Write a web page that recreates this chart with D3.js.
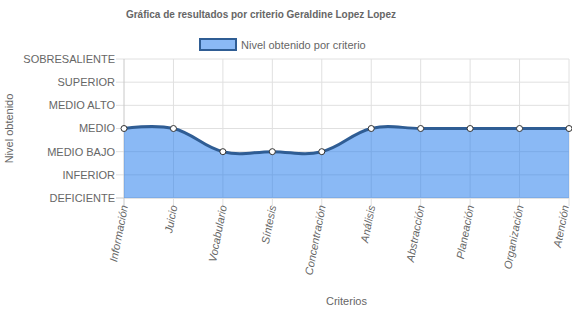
<!DOCTYPE html>
<html>
<head>
<meta charset="utf-8">
<script src="https://cdn.jsdelivr.net/npm/d3@7"></script>
<style>
  body { margin: 0; background: #fff; }
  svg text { font-family: "Liberation Sans", Arial, sans-serif; fill: #666; }
</style>
</head>
<body>
<svg id="chart" width="572" height="313"></svg>
<script>
var criterios = ["Información", "Juicio", "Vocabulario", "Síntesis", "Concentración",
  "Análisis", "Abstracción", "Planeación", "Organización", "Atención"];
var niveles = ["DEFICIENTE", "INFERIOR", "MEDIO BAJO", "MEDIO", "MEDIO ALTO", "SUPERIOR", "SOBRESALIENTE"];
var valores = [3, 3, 2, 2, 2, 3, 3, 3, 3, 3];

var titulo = "Gráfica de resultados por criterio Geraldine Lopez Lopez";
var leyenda = "Nivel obtenido por criterio";

var svg = d3.select('#chart');
var margin = {top: 59, right: 3, bottom: 115, left: 124};
var width = 572 - margin.left - margin.right;
var height = 313 - margin.top - margin.bottom;

var x = d3.scalePoint().domain(criterios).range([0, width]);
var y = d3.scaleLinear().domain([0, niveles.length - 1]).range([height, 0]);

var g = svg.append("g").attr("transform", "translate(" + margin.left + "," + margin.top + ")");

// grid
g.append("g").selectAll("line")
  .data(d3.range(niveles.length))
  .enter().append("line")
  .attr("x1", -8).attr("x2", width)
  .attr("y1", function(d) { return y(d); })
  .attr("y2", function(d) { return y(d); })
  .attr("stroke", function(d) { return d == 0 ? "#c8c8c8" : "#e0e0e0"; })
  .attr("stroke-width", 1);

g.append("g").selectAll("line")
  .data(criterios)
  .enter().append("line")
  .attr("x1", function(d) { return x(d); })
  .attr("x2", function(d) { return x(d); })
  .attr("y1", 0).attr("y2", height + 8)
  .attr("stroke", function(d, i) { return i == 0 ? "#c8c8c8" : "#e0e0e0"; })
  .attr("stroke-width", 1);

// y labels
g.append("g").selectAll("text")
  .data(niveles)
  .enter().append("text")
  .attr("x", -9)
  .attr("y", function(d, i) { return y(i); })
  .attr("dy", "0.35em")
  .attr("text-anchor", "end")
  .attr("font-size", 11)
  .text(function(d) { return d; });

// x labels (last one pulled in a little so it stays inside the page)
g.append("g").selectAll("text")
  .data(criterios)
  .enter().append("text")
  .attr("transform", function(d, i) {
    var dx = i == criterios.length - 1 ? 0 : 4;
    return "translate(" + (x(d) + dx) + "," + (height + 8) + ") rotate(-79)"; })
  .attr("text-anchor", "end")
  .attr("font-size", 11)
  .attr("font-style", "italic")
  .text(function(d) { return d; });

var datos = criterios.map(function(c, i) { return {c: c, v: valores[i]}; });

var area = d3.area()
  .x(function(d) { return x(d.c); })
  .y0(height)
  .y1(function(d) { return y(d.v); })
  .curve(d3.curveCardinal.tension(-0.2));

var line = d3.line()
  .x(function(d) { return x(d.c); })
  .y(function(d) { return y(d.v); })
  .curve(d3.curveCardinal.tension(-0.2));

g.append("path").datum(datos)
  .attr("d", area)
  .attr("fill", "rgba(30,120,235,0.52)");

g.append("path").datum(datos)
  .attr("d", line)
  .attr("fill", "none")
  .attr("stroke", "#2f5d94")
  .attr("stroke-width", 3);

g.selectAll("circle")
  .data(datos)
  .enter().append("circle")
  .attr("cx", function(d) { return x(d.c); })
  .attr("cy", function(d) { return y(d.v); })
  .attr("r", 3)
  .attr("fill", "#fff")
  .attr("stroke", "#333")
  .attr("stroke-width", 1);

// title
svg.append("text")
  .attr("x", 261).attr("y", 18)
  .attr("text-anchor", "middle")
  .attr("font-size", 10)
  .attr("font-weight", "bold")
  .text(titulo);

// legend
svg.append("rect")
  .attr("x", 200).attr("y", 39).attr("width", 36).attr("height", 11)
  .attr("fill", "rgba(30,120,235,0.52)")
  .attr("stroke", "#2f5d94").attr("stroke-width", 2);
svg.append("text")
  .attr("x", 241).attr("y", 49)
  .attr("font-size", 11)
  .text(leyenda);

// axis titles
svg.append("text")
  .attr("transform", "translate(13," + (margin.top + height / 2) + ") rotate(-90)")
  .attr("text-anchor", "middle")
  .attr("font-size", 11)
  .text("Nivel obtenido");

svg.append("text")
  .attr("x", margin.left + width / 2).attr("y", 305)
  .attr("text-anchor", "middle")
  .attr("font-size", 11)
  .text("Criterios");
</script>
</body>
</html>
